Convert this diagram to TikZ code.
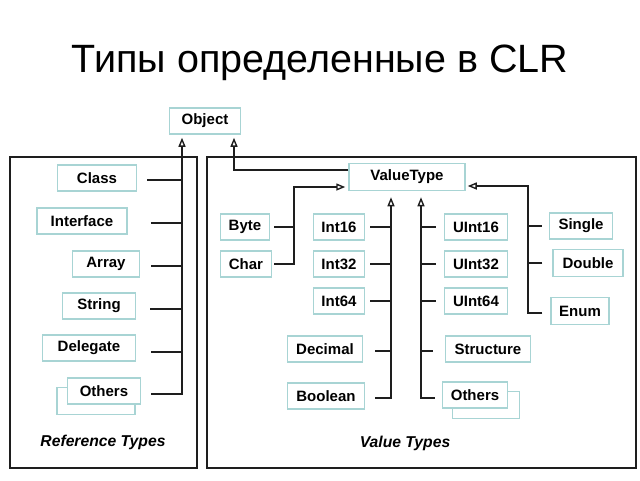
\documentclass[tikz,border=0pt]{standalone}
\usepackage{fontspec}
\setmainfont{Liberation Sans}
\usetikzlibrary{arrows.meta}

\definecolor{boxline}{RGB}{168,212,212}
\definecolor{wirec}{RGB}{30,30,30}

\tikzset{
  tbox/.style={draw=boxline, line width=1.5pt, fill=white, inner sep=0pt,
    minimum height=26pt, font=\fontsize{15}{17}\selectfont\bfseries},
  wire/.style={draw=wirec, line width=2pt},
  up/.style={wire, -{Triangle[open, length=9pt, width=7pt, line width=1.4pt]}},
  frame/.style={draw=wirec, line width=2.5pt},
  grouplabel/.style={font=\fontsize{15.7}{18}\selectfont\bfseries\itshape},
}

\begin{document}
\begin{tikzpicture}[x=1pt,y=-1pt]
\useasboundingbox (0,0) rectangle (640,480);

\node[anchor=base] (title) at (320,72) {\fontsize{39.5}{44}\selectfont Типы определенные в CLR};

% frames
\draw[frame] (10,157) rectangle (197,468);
\draw[frame] (207,157) rectangle (636,468);

\node[tbox, minimum width=71pt] (obj) at (205,121) {Object};

% reference types
\node[tbox, minimum width=79pt] (cls) at (97,178) {Class};
\node[tbox, minimum width=90pt] (ifc) at (82,221) {Interface};
\node[tbox, minimum width=67pt] (arr) at (106,264) {Array};
\node[tbox, minimum width=73pt] (str) at (99,306) {String};
\node[tbox, minimum width=93pt] (dlg) at (89,348) {Delegate};
\node[tbox, minimum width=78pt, minimum height=27pt] (rothb) at (96,401) {};
\node[tbox, minimum width=73pt] (roth) at (104,391) {Others};
\node[grouplabel] (rlab) at (103,442) {Reference Types};

\coordinate (rbus) at (182,0);
\draw[wire] ([xshift=10pt,yshift=-2pt]cls.east) -- ([yshift=-2pt]cls.east -| rbus);
\draw[wire] ([xshift=23pt,yshift=-2pt]ifc.east) -- ([yshift=-2pt]ifc.east -| rbus);
\draw[wire] ([xshift=11pt,yshift=-2pt]arr.east) -- ([yshift=-2pt]arr.east -| rbus);
\draw[wire] ([xshift=14pt,yshift=-3pt]str.east) -- ([yshift=-3pt]str.east -| rbus);
\draw[wire] ([xshift=15pt,yshift=-4pt]dlg.east) -- ([yshift=-4pt]dlg.east -| rbus);
\draw[up] ([xshift=10pt,yshift=-3pt]roth.east) -| ([yshift=-3pt]obj.south -| rbus);

% value types
\node[tbox, minimum width=116pt, minimum height=27pt] (vt) at (407,177) {ValueType};
\draw[up] ([yshift=7pt]vt.west) -| ([xshift=29pt,yshift=-3pt]obj.south);

\node[tbox, minimum width=49pt] (byte) at (245,227) {Byte};
\node[tbox, minimum width=51pt] (chr) at (246,264) {Char};
\coordinate (cbus) at (294,0);
\draw[wire] ([xshift=4pt]byte.east) -- (byte.east -| cbus);
\draw[up] ([xshift=2pt]chr.east) -| ([yshift=-10pt]vt.west -| cbus) -- ([xshift=-3pt,yshift=-10pt]vt.west);

\node[tbox, minimum width=51pt] (i16) at (339,227) {Int16};
\node[tbox, minimum width=51pt] (i32) at (339,264) {Int32};
\node[tbox, minimum width=51pt] (i64) at (339,301) {Int64};
\node[tbox, minimum width=75pt] (dec) at (325,349) {Decimal};
\node[tbox, minimum width=77pt] (bool) at (326,396) {Boolean};
\coordinate (ibus) at (391,0);
\draw[wire] ([xshift=5pt]i16.east) -- (i16.east -| ibus);
\draw[wire] ([xshift=5pt]i32.east) -- (i32.east -| ibus);
\draw[wire] ([xshift=5pt]i64.east) -- (i64.east -| ibus);
\draw[wire] ([xshift=12pt,yshift=-2pt]dec.east) -- ([yshift=-2pt]dec.east -| ibus);
\draw[up] ([xshift=10pt,yshift=-2pt]bool.east) -| ([xshift=-16pt,yshift=-6pt]vt.south);

\node[tbox, minimum width=63pt] (u16) at (476,227) {UInt16};
\node[tbox, minimum width=63pt] (u32) at (476,264) {UInt32};
\node[tbox, minimum width=63pt] (u64) at (476,301) {UInt64};
\node[tbox, minimum width=85pt] (stc) at (488,349) {Structure};
\node[tbox, minimum width=67pt, minimum height=27pt] (vothb) at (486,405) {};
\node[tbox, minimum width=65pt] (voth) at (475,395) {Others};
\coordinate (ubus) at (421,0);
\draw[wire] ([xshift=-8pt]u16.west) -- (u16.west -| ubus);
\draw[wire] ([xshift=-8pt]u32.west) -- (u32.west -| ubus);
\draw[wire] ([xshift=-8pt]u64.west) -- (u64.west -| ubus);
\draw[wire] ([xshift=-12pt,yshift=-2pt]stc.west) -- ([yshift=-2pt]stc.west -| ubus);
\draw[up] ([xshift=-7pt,yshift=-3pt]voth.west) -| ([xshift=14pt,yshift=-6pt]vt.south);

\node[tbox, minimum width=63pt] (sgl) at (581,226) {Single};
\node[tbox, minimum width=70pt, minimum height=27pt] (dbl) at (588,263) {Double};
\node[tbox, minimum width=58pt, minimum height=27pt] (enm) at (580,311) {Enum};
\coordinate (fbus) at (528,0);
\draw[wire] ([xshift=-7pt]sgl.west) -- (sgl.west -| fbus);
\draw[wire] ([xshift=-10pt]dbl.west) -- (dbl.west -| fbus);
\draw[up] ([xshift=-8pt,yshift=-2pt]enm.west) -| ([yshift=-9pt]vt.east -| fbus) -- ([xshift=2pt,yshift=-9pt]vt.east);

\node[grouplabel] (vlab) at (405,443) {Value Types};
\end{tikzpicture}
\end{document}
